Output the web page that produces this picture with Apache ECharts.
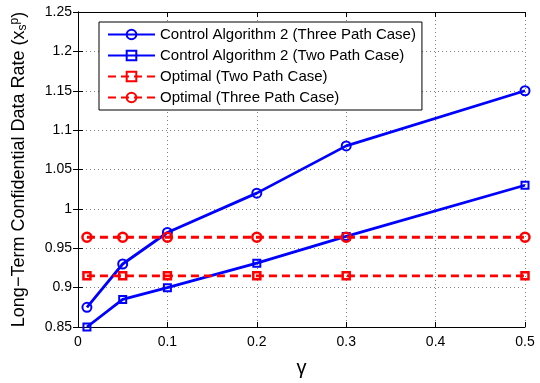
<!DOCTYPE html>
<html>
<head>
<meta charset="utf-8">
<script src="https://cdn.jsdelivr.net/npm/echarts@6/dist/echarts.min.js"></script>
<style>
  html, body { margin: 0; padding: 0; background: #fff; }
  #chart { width: 540px; height: 383px; }
</style>
</head>
<body>
<div id="chart"></div>
<script>
// gamma values at which the rates were evaluated
var gammaValues = [0.01, 0.05, 0.1, 0.2, 0.3, 0.5];

// long-term confidential data rate for each case
var algThreePath = [0.875, 0.93, 0.97, 1.02, 1.08, 1.15];
var algTwoPath = [0.85, 0.885, 0.90, 0.931, 0.965, 1.03];
var optimalTwoPath = [0.915, 0.915, 0.915, 0.915, 0.915, 0.915];
var optimalThreePath = [0.964, 0.964, 0.964, 0.964, 0.964, 0.964];

var seriesNames = [
  'Control Algorithm 2 (Three Path Case)',
  'Control Algorithm 2 (Two Path Case)',
  'Optimal (Two Path Case)',
  'Optimal (Three Path Case)'
];

var BLUE = '#0000ff';
var RED = '#ff0000';
var FONT = 'Liberation Sans, Arial, Helvetica, sans-serif';

function pairs(xs, ys) {
  return xs.map(function (x, i) { return [x, ys[i]]; });
}

function fmt(v) { return String(parseFloat(v.toFixed(2))); }

var gridLine = { show: true, lineStyle: { color: '#7f7f7f', width: 1, type: [1, 3] } };

var chart = echarts.init(document.getElementById('chart'), null, { renderer: 'canvas' });

chart.setOption({
  backgroundColor: '#fff',
  animation: false,
  textStyle: { fontFamily: FONT },
  grid: { left: 78, right: 15, top: 12, bottom: 45, containLabel: false },
  legend: {
    orient: 'vertical',
    left: 99,
    top: 22,
    data: seriesNames,
    backgroundColor: '#fff',
    borderColor: '#000',
    borderWidth: 1,
    borderRadius: 0,
    padding: [5, 6, 5, 8],
    itemWidth: 47,
    itemHeight: 12,
    itemGap: 6,
    textStyle: { fontFamily: FONT, fontSize: 15, color: '#000' }
  },
  xAxis: [{
    type: 'value',
    min: 0, max: 0.5, interval: 0.1,
    name: 'γ',
    nameLocation: 'middle',
    nameGap: 31,
    nameTextStyle: { fontFamily: FONT, fontSize: 20, color: '#000' },
    axisLine: { show: true, lineStyle: { color: '#000', width: 1 } },
    axisTick: { show: true, inside: true, length: 5, lineStyle: { color: '#000' } },
    axisLabel: { color: '#000', fontSize: 14, margin: 8, formatter: fmt },
    splitLine: gridLine
  }, {
    type: 'value', position: 'top',
    min: 0, max: 0.5, interval: 0.1,
    axisLine: { show: true, lineStyle: { color: '#000', width: 1 } },
    axisTick: { show: true, inside: true, length: 5, lineStyle: { color: '#000' } },
    axisLabel: { show: false },
    splitLine: { show: false }
  }],
  yAxis: [{
    type: 'value',
    min: 0.85, max: 1.25, interval: 0.05,
    name: 'Long−Term Confidential Data Rate (x{sb|s}{sp|p})',
    nameLocation: 'middle',
    nameGap: 49,
    nameTextStyle: {
      fontFamily: FONT, fontSize: 18, color: '#000',
      rich: {
        sb: { fontFamily: FONT, fontSize: 12, color: '#000', verticalAlign: 'bottom', padding: [8, 0, 0, 0] },
        sp: { fontFamily: FONT, fontSize: 12, color: '#000', verticalAlign: 'top', padding: [0, 0, 8, 0] }
      }
    },
    axisLine: { show: true, lineStyle: { color: '#000', width: 1 } },
    axisTick: { show: true, inside: true, length: 5, lineStyle: { color: '#000' } },
    axisLabel: { color: '#000', fontSize: 14, margin: 6, formatter: fmt },
    splitLine: gridLine
  }, {
    type: 'value', position: 'right',
    min: 0.85, max: 1.25, interval: 0.05,
    axisLine: { show: true, lineStyle: { color: '#000', width: 1 } },
    axisTick: { show: true, inside: true, length: 5, lineStyle: { color: '#000' } },
    axisLabel: { show: false },
    splitLine: { show: false }
  }],
  series: [{
    name: seriesNames[0],
    type: 'line',
    data: pairs(gammaValues, algThreePath),
    symbol: 'circle',
    symbolSize: 9,
    showAllSymbol: true,
    lineStyle: { color: BLUE, width: 2.8 },
    itemStyle: { color: 'rgba(255,255,255,0)', borderColor: BLUE, borderWidth: 2, borderType: 'solid' },
    z: 2
  }, {
    name: seriesNames[1],
    type: 'line',
    data: pairs(gammaValues, algTwoPath),
    symbol: 'rect',
    symbolSize: 7,
    showAllSymbol: true,
    lineStyle: { color: BLUE, width: 2.8 },
    itemStyle: { color: 'rgba(255,255,255,0)', borderColor: BLUE, borderWidth: 2, borderType: 'solid' },
    z: 2
  }, {
    name: seriesNames[2],
    type: 'line',
    data: pairs(gammaValues, optimalTwoPath),
    symbol: 'rect',
    symbolSize: 7,
    showAllSymbol: true,
    lineStyle: { color: RED, width: 2.8, type: [8, 5] },
    itemStyle: { color: 'rgba(255,255,255,0)', borderColor: RED, borderWidth: 2.5, borderType: 'solid' },
    z: 3
  }, {
    name: seriesNames[3],
    type: 'line',
    data: pairs(gammaValues, optimalThreePath),
    symbol: 'circle',
    symbolSize: 9,
    showAllSymbol: true,
    lineStyle: { color: RED, width: 2.8, type: [8, 5] },
    itemStyle: { color: 'rgba(255,255,255,0)', borderColor: RED, borderWidth: 2.5, borderType: 'solid' },
    z: 3
  }]
});
</script>
</body>
</html>
